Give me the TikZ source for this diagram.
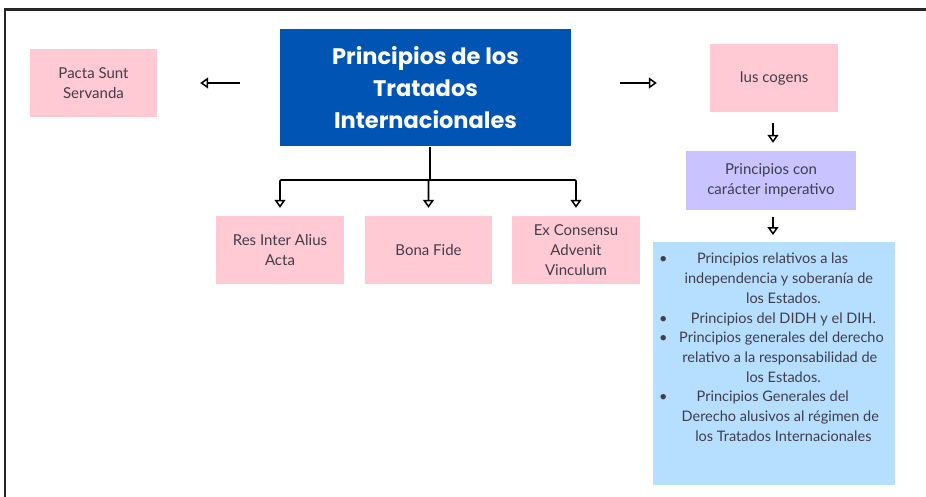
\documentclass[tikz,border=0pt]{standalone}
\usepackage{fontspec}
\usepackage{array}
\setmainfont{Poppins}
\newfontfamily\bodyfont{Lato}
\usetikzlibrary{arrows.meta}
\definecolor{rosa}{RGB}{255,202,211}
\definecolor{azul}{RGB}{0,84,180}
\definecolor{lila}{RGB}{201,195,255}
\definecolor{celeste}{RGB}{181,222,255}
\definecolor{tinta}{RGB}{64,62,74}
\begin{document}
\begin{tikzpicture}[x=1pt, y=-1pt,
    caja/.style={fill=rosa, inner sep=0pt, align=center, text=tinta,
        font=\bodyfont\fontsize{15}{20}\selectfont},
    titulo/.style={fill=azul, text=white, inner sep=0pt, align=center,
        font=\bfseries\fontsize{22.5}{32}\selectfont},
    flecha/.style={line width=1.7pt, -{Triangle[open, length=8pt, width=11pt, line width=1.5pt]}}]
\useasboundingbox (0,0) rectangle (926,497);
\draw[line width=2.5pt, black!85] (5,497) -- (5,9.5) -- (926,9.5);
\node[titulo, minimum width=291pt, minimum height=117pt] (tratados) at (425.5,88)
    {Principios de los\\Tratados\\Internacionales};
\node[caja, minimum width=127pt, minimum height=68pt] (pacta) at (93.5,83) {Pacta Sunt\\Servanda};
\node[caja, minimum width=128pt, minimum height=68pt] (ius) at (774,78) {Ius cogens};
\node[caja, fill=lila, minimum width=170pt, minimum height=59pt] (imper) at (771,180.5)
    {Principios con\\carácter imperativo};
\node[caja, minimum width=128pt, minimum height=68pt] (res) at (280,250) {Res Inter Alius\\Acta};
\node[caja, minimum width=127pt, minimum height=68pt] (bona) at (428.5,250) {Bona Fide};
\node[caja, minimum width=128pt, minimum height=68pt] (ex) at (576,250) {Ex Consensu\\Advenit\\Vinculum};
\node[caja, fill=celeste, minimum width=242pt, minimum height=243pt, anchor=north west] (lista) at (653,242) {};
\node[caja, fill=none, anchor=north, font=\bodyfont\fontsize{14.5}{19.7}\selectfont] (listatxt)
    at ([xshift=1pt, yshift=-8pt]lista.north)
    {\begin{tabular}{@{}c@{\hspace{8pt}}>{\centering\arraybackslash}p{216pt}@{}}
     • & Principios relativos a las\newline independencia y soberanía de\newline los Estados.\\
     • & Principios del DIDH y el DIH.\\
     • & Principios generales del derecho\newline relativo a la responsabilidad de\newline los Estados.\\
     • & Principios Generales del\newline Derecho alusivos al régimen de\newline los Tratados Internacionales
     \end{tabular}};
% flechas sueltas
\draw[flecha, shorten <=40pt, shorten >=43pt] (tratados.west |- pacta.east) -- (pacta.east);
\draw[flecha, shorten <=49pt, shorten >=53pt] (tratados.east |- 0,83) -- (ius.west |- 0,83);
\foreach \from/\to/\a/\b in {ius/imper/11/8, imper/lista/7/7}
    \draw[flecha, shorten <=\a pt, shorten >=\b pt] (\from.south -| 773,0) -- (\to.north -| 773,0);
% arbol
\coordinate (rama) at (430,180);
\draw[line width=1.7pt] (tratados.south -| rama) -- (rama);
\foreach \to in {res, bona, ex}
    \draw[flecha, shorten >=8pt, rounded corners=1pt] (rama) -| (\to.north);
\end{tikzpicture}
\end{document}
